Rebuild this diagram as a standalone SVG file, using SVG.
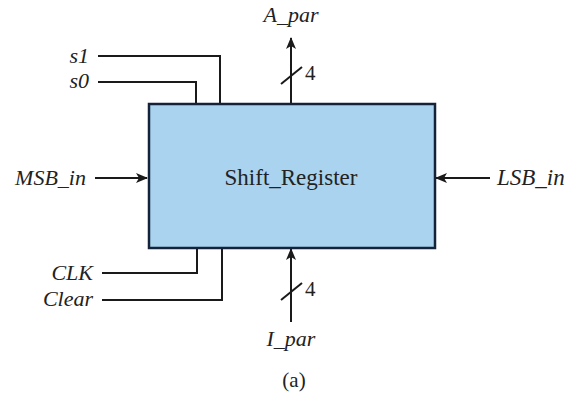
<svg xmlns="http://www.w3.org/2000/svg" width="571" height="395" viewBox="0 0 571 395">
<style>
.w{fill:none;stroke:#1a1a1a;stroke-width:2}
.lbl{font-family:"Liberation Serif","DejaVu Serif",serif;font-style:italic;font-size:22px;fill:#222222}
.t{font-family:"Liberation Serif","DejaVu Serif",serif;font-size:21px;fill:#222222}
</style>
<defs>
<marker id="ah" markerWidth="12" markerHeight="10" refX="11" refY="5" orient="auto" markerUnits="userSpaceOnUse">
<path d="M0,0 L12,5 L0,10 L3,5 z" fill="#1a1a1a"/>
</marker>
</defs>
<rect width="571" height="395" fill="#ffffff"/>
<g id="connectors">
<polyline class="w" points="98,56 220,56 220,104"/>
<polyline class="w" points="98,82 196,82 196,104"/>
<polyline class="w" points="102,273 197,273 197,248"/>
<polyline class="w" points="102,300 222,300 222,248"/>
<line class="w" x1="291" y1="104" x2="291" y2="38" marker-end="url(#ah)"/>
<line class="w" x1="281" y1="84" x2="302" y2="67"/>
<line class="w" x1="291" y1="322" x2="291" y2="249" marker-end="url(#ah)"/>
<line class="w" x1="281" y1="300" x2="302" y2="283"/>
<line class="w" x1="95" y1="178" x2="147" y2="178" marker-end="url(#ah)"/>
<line class="w" x1="490" y1="178" x2="436" y2="178" marker-end="url(#ah)"/>
</g>
<g id="shift_register">
<rect x="149" y="104" width="286" height="144" fill="#a9d3ee" stroke="#15233a" stroke-width="2.5"/>
<text class="t" x="291" y="185" text-anchor="middle" fill="#1f3550" style="font-size:23px">Shift_Register</text>
</g>
<g id="labels">
<text class="lbl" x="89" y="63" text-anchor="end">s1</text>
<text class="lbl" x="89" y="88" text-anchor="end">s0</text>
<text class="lbl" x="93" y="280" text-anchor="end">CLK</text>
<text class="lbl" x="93" y="306" text-anchor="end">Clear</text>
<text class="lbl" x="86" y="185" text-anchor="end">MSB_in</text>
<text class="lbl" x="497" y="185" style="font-size:23px">LSB_in</text>
<text class="lbl" x="291" y="22" text-anchor="middle">A_par</text>
<text class="lbl" x="291" y="346" text-anchor="middle">I_par</text>
<text class="t" x="305" y="80">4</text>
<text class="t" x="305" y="296">4</text>
<text class="t" x="294" y="387" text-anchor="middle">(a)</text>
</g>
</svg>
